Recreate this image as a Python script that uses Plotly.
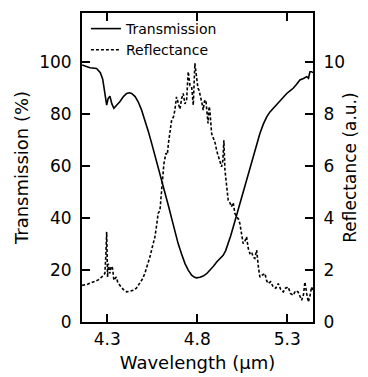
import plotly.graph_objects as go

# Transmission (%) vs wavelength (um)
trans_wl = [4.161, 4.204, 4.241, 4.262, 4.275, 4.287, 4.297, 4.305, 4.315, 4.326, 4.337,
            4.352, 4.370, 4.390, 4.408, 4.422, 4.436, 4.455, 4.472, 4.490, 4.509, 4.528,
            4.547, 4.565, 4.583, 4.602, 4.620, 4.640, 4.658, 4.676, 4.694, 4.713, 4.732,
            4.750, 4.769, 4.785, 4.797, 4.815, 4.833, 4.852, 4.870, 4.890, 4.908, 4.926,
            4.944, 4.958, 4.972, 4.986, 5.000, 5.018, 5.037, 5.055, 5.074, 5.092, 5.111,
            5.130, 5.148, 5.167, 5.186, 5.204, 5.222, 5.240, 5.259, 5.278, 5.297, 5.315,
            5.333, 5.352, 5.370, 5.390, 5.408, 5.418, 5.426, 5.435, 5.443]
trans_val = [99.0, 97.9, 97.6, 96.0, 93.5, 88.7, 83.5, 86.0, 87.0, 84.0, 82.3,
             83.5, 84.8, 86.8, 88.0, 88.3, 88.0, 86.8, 84.8, 81.8, 77.8, 73.5,
             68.8, 64.3, 59.8, 55.0, 50.1, 44.8, 39.9, 35.0, 30.2, 26.2, 22.5,
             20.0, 18.0, 17.2, 17.0, 17.2, 17.7, 18.6, 19.9, 21.5, 23.1, 24.4,
             25.7, 27.5, 30.2, 33.2, 36.6, 41.0, 45.6, 50.1, 54.6, 59.1, 63.6,
             68.1, 72.6, 76.2, 79.0, 80.9, 82.3, 83.5, 84.8, 86.4, 88.0, 89.0,
             90.0, 91.6, 93.2, 93.8, 94.5, 93.9, 96.4, 96.4, 96.0]

# Reflectance (a.u.) vs wavelength (um)
refl_wl = [4.161, 4.190, 4.222, 4.250, 4.269, 4.280, 4.287, 4.292, 4.297, 4.300, 4.302,
           4.306, 4.310, 4.315, 4.322, 4.330, 4.337, 4.350, 4.360, 4.370, 4.390, 4.408,
           4.425, 4.445, 4.462, 4.480, 4.495, 4.509, 4.523, 4.537, 4.551, 4.565, 4.575,
           4.583, 4.593, 4.602, 4.608, 4.615, 4.626, 4.634, 4.640, 4.650, 4.658, 4.668,
           4.676, 4.685, 4.694, 4.704, 4.713, 4.722, 4.732, 4.741, 4.750, 4.760, 4.769,
           4.778, 4.787, 4.797, 4.804, 4.810, 4.820, 4.827, 4.833, 4.840, 4.848, 4.855,
           4.860, 4.866, 4.870, 4.880, 4.890, 4.900, 4.908, 4.917, 4.926, 4.935, 4.942,
           4.948, 4.954, 4.963, 4.972, 4.981, 4.990, 5.000, 5.009, 5.020, 5.030, 5.037,
           5.046, 5.055, 5.064, 5.074, 5.083, 5.092, 5.102, 5.111, 5.120, 5.130, 5.140,
           5.148, 5.160, 5.176, 5.185, 5.194, 5.208, 5.222, 5.236, 5.250, 5.264, 5.278,
           5.290, 5.305, 5.318, 5.333, 5.346, 5.360, 5.370, 5.380, 5.390, 5.398, 5.408,
           5.417, 5.426, 5.435, 5.443]
refl_val = [1.41, 1.45, 1.54, 1.62, 1.73, 1.80, 1.87, 2.50, 3.47, 2.40, 1.73,
            2.25, 2.10, 1.87, 2.15, 2.06, 1.61, 1.73, 1.50, 1.41, 1.25, 1.16,
            1.20, 1.22, 1.30, 1.48, 1.65, 1.87, 2.15, 2.50, 2.90, 3.28, 3.75,
            4.18, 4.30, 5.08, 5.30, 6.10, 6.50, 6.45, 6.88, 7.40, 7.78, 7.90,
            8.16, 8.67, 8.40, 8.20, 8.60, 8.80, 8.40, 8.55, 9.64, 9.10, 9.06,
            8.35, 9.96, 9.45, 9.00, 8.93, 8.67, 8.40, 8.16, 8.50, 8.55, 8.00,
            7.65, 8.30, 8.16, 7.26, 7.10, 6.88, 6.60, 6.36, 6.20, 5.98, 6.20,
            7.00, 5.85, 5.20, 4.69, 4.60, 4.44, 4.60, 4.18, 4.05, 3.95, 3.79,
            3.40, 3.02, 3.10, 3.28, 2.85, 2.64, 2.70, 2.50, 2.45, 2.77, 2.10,
            1.73, 1.80, 1.87, 1.60, 1.48, 1.55, 1.35, 1.30, 1.48, 1.25, 1.16,
            1.30, 1.35, 1.10, 1.03, 1.20, 1.16, 1.00, 0.84, 1.05, 1.54, 1.10,
            0.77, 1.00, 1.35, 1.20]

x_ticks = [4.3, 4.8, 5.3]
x_tick_labels = ["4.3", "4.8", "5.3"]
y_ticks = [0, 20, 40, 60, 80, 100]
y2_ticks = [0, 2, 4, 6, 8, 10]

FONT = "DejaVu Sans, Liberation Sans, Arial, sans-serif"

fig = go.Figure()
fig.add_trace(go.Scatter(x=trans_wl, y=trans_val, mode="lines", name="Transmission",
                         line=dict(color="black", width=1.6)))
fig.add_trace(go.Scatter(x=refl_wl, y=refl_val, mode="lines", name="Reflectance",
                         yaxis="y2", line=dict(color="black", width=1.6, dash="3px,2px")))

axis_common = dict(showline=True, linecolor="black", linewidth=2, ticks="inside",
                   ticklen=8, tickwidth=2, tickcolor="black", showgrid=False,
                   zeroline=False, automargin=False,
                   tickfont=dict(family=FONT, size=17, color="black"))

# the page body adds an 8px offset, so the figure is 8px smaller than the window
fig.update_layout(
    width=360, height=369,
    margin=dict(l=74, r=55, t=5, b=55),
    paper_bgcolor="white", plot_bgcolor="white",
    font=dict(family=FONT, color="black"),
    showlegend=True,
    legend=dict(x=0.017, y=1.0, xanchor="left", yanchor="top", bgcolor="rgba(0,0,0,0)",
                font=dict(family=FONT, size=14, color="black"), tracegroupgap=0,
                itemwidth=30),
    xaxis=dict(range=[4.16, 5.443], tickvals=x_ticks, ticktext=x_tick_labels,
               mirror="ticks", ticklabelstandoff=1,
               title=dict(text="Wavelength (\u00b5m)", font=dict(family=FONT, size=18), standoff=8),
               **axis_common),
    yaxis=dict(range=[0, 119], tickvals=y_ticks, ticklabelstandoff=5,
               title=dict(text="Transmission (%)", font=dict(family=FONT, size=18), standoff=6),
               **axis_common),
    yaxis2=dict(range=[0, 11.9], tickvals=y2_ticks, overlaying="y", side="right",
                ticklabelstandoff=5,
                title=dict(text="Reflectance (a.u.)", font=dict(family=FONT, size=17), standoff=0),
                **axis_common),
)

fig.write_html("out.html")
